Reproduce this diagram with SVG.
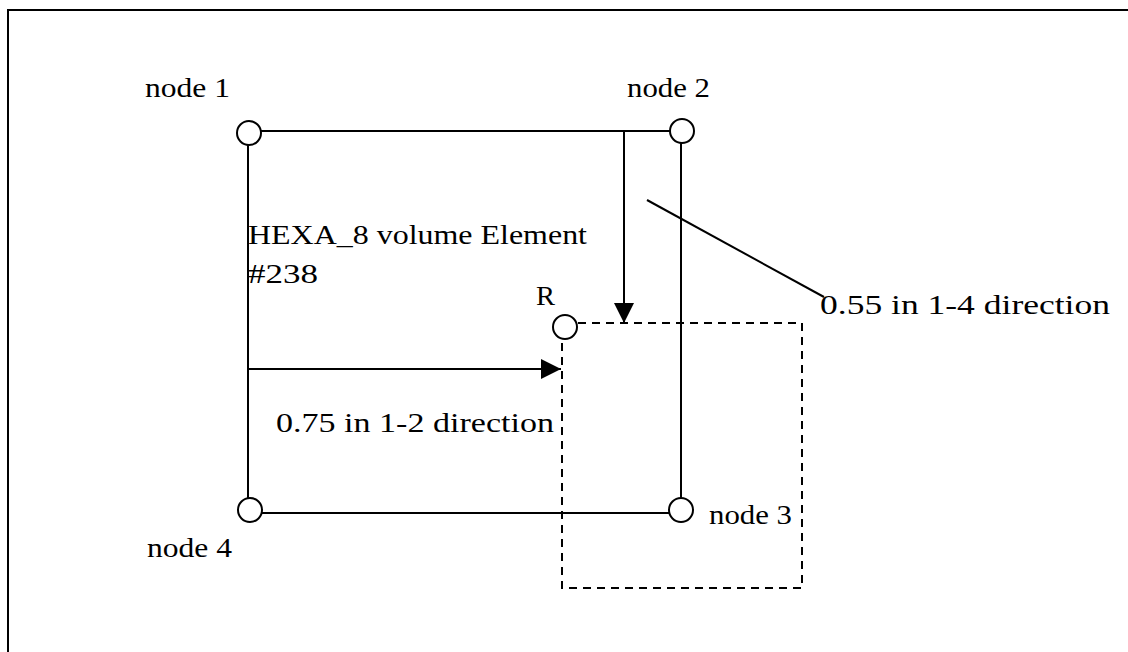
<svg xmlns="http://www.w3.org/2000/svg" width="1128" height="652" viewBox="0 0 1128 652">
<defs>
<style>
.ln{stroke:#000;stroke-width:2;fill:none}
.dash{stroke:#000;stroke-width:2;fill:none;stroke-dasharray:8,6}
.nd{stroke:#000;stroke-width:2;fill:#fff}
text{font-family:"Liberation Serif","Times New Roman",serif;font-size:28px;fill:#000}
</style>
<marker id="ah" viewBox="0 0 20 20" refX="20" refY="10" markerWidth="20" markerHeight="20" markerUnits="userSpaceOnUse" orient="auto">
<path d="M0,0 L20,10 L0,20 Z" fill="#000"/>
</marker>
</defs>
<rect width="1128" height="652" fill="#fff"/>
<path class="ln" d="M8,652 L8,10 L1128,10"/>
<g id="connectors">
<line class="ln" x1="261" y1="131" x2="670" y2="131"/>
<line class="ln" x1="248" y1="145" x2="248" y2="498"/>
<line class="ln" x1="681" y1="143" x2="681" y2="498"/>
<line class="ln" x1="262" y1="513" x2="669" y2="513"/>
<line class="ln" x1="624" y1="131" x2="624" y2="323" marker-end="url(#ah)"/>
<line class="ln" x1="248" y1="369" x2="561" y2="369" marker-end="url(#ah)"/>
<line class="ln" x1="647" y1="200" x2="824" y2="297"/>
<path class="dash" d="M578,323 L802,323 L802,588 L562,588 L562,340"/>
</g>
<g id="node1"><circle class="nd" cx="249" cy="133" r="12"/><text x="145" y="97" textLength="85" lengthAdjust="spacingAndGlyphs">node 1</text></g>
<g id="node2"><circle class="nd" cx="682" cy="131" r="12"/><text x="627" y="97" textLength="83" lengthAdjust="spacingAndGlyphs">node 2</text></g>
<g id="node3"><circle class="nd" cx="681" cy="510" r="12"/><text x="709" y="524" textLength="83" lengthAdjust="spacingAndGlyphs">node 3</text></g>
<g id="node4"><circle class="nd" cx="250" cy="510" r="12"/><text x="147" y="557" textLength="85" lengthAdjust="spacingAndGlyphs">node 4</text></g>
<g id="nodeR"><circle class="nd" cx="565" cy="327" r="12"/><text x="536" y="305" textLength="19" lengthAdjust="spacingAndGlyphs">R</text></g>
<g id="labels">
<text x="248" y="244" textLength="339" lengthAdjust="spacingAndGlyphs">HEXA_8 volume Element</text>
<text x="248" y="283" textLength="70" lengthAdjust="spacingAndGlyphs">#238</text>
<text x="820" y="314" textLength="290" lengthAdjust="spacingAndGlyphs">0.55 in 1-4 direction</text>
<text x="276" y="432" textLength="278" lengthAdjust="spacingAndGlyphs">0.75 in 1-2 direction</text>
</g>
</svg>
